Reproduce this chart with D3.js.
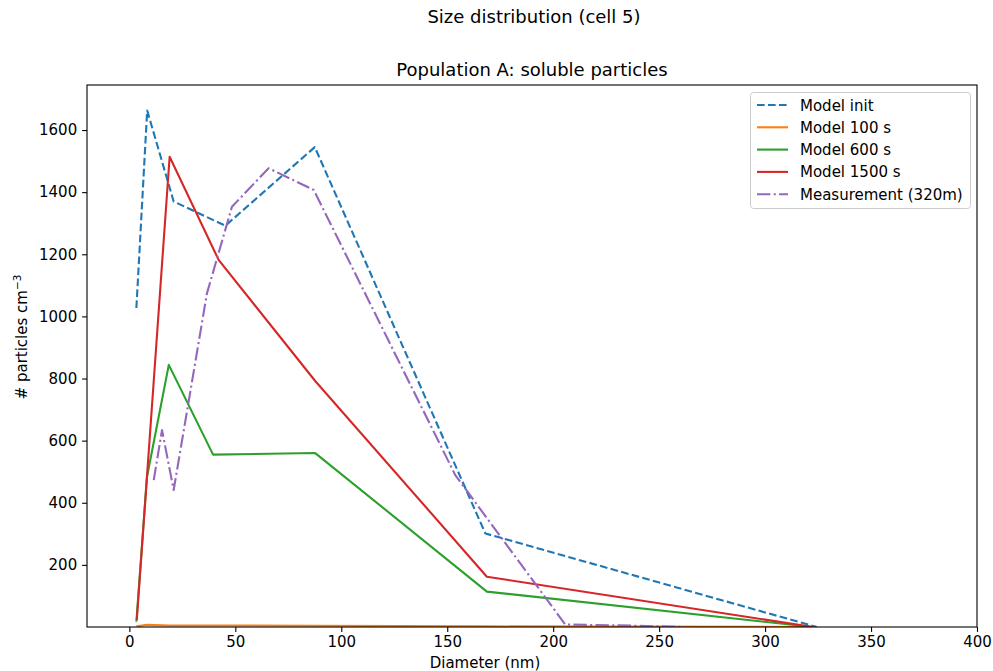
<!DOCTYPE html>
<html>
<head>
<meta charset="utf-8">
<script src="https://cdn.jsdelivr.net/npm/d3@7"></script>
<style>
  html, body { margin: 0; padding: 0; background: #fff; }
  svg text { font-family: "DejaVu Sans", sans-serif; fill: #000; }
</style>
</head>
<body>
<svg id="chart" width="993" height="671"></svg>
<script>
// Particle number size distribution, population A, cell 5
const initDiam = [3.3, 8.4, 20.9, 45.3, 87.5, 168, 324.4];
const initNum  = [1027, 1663, 1370, 1292, 1545, 301, 0];

const t100Diam = [3.3, 8.4, 19, 40, 88, 168, 323];
const t100Num  = [2, 7, 5, 5, 4, 2, 0];

const t600Diam = [3.3, 8.3, 18.6, 39.5, 87.7, 168.7, 322.5];
const t600Num  = [17, 483, 844, 555, 560, 114, 0];

const t1500Diam = [3.5, 19, 42.1, 87.7, 168.7, 322.6];
const t1500Num  = [23, 1514, 1182, 792, 162, 0];

const measDiam = [11.5, 15.4, 20.9, 36.6, 48.4, 65.7, 87, 153.8, 205.7, 240, 261];
const measNum  = [473, 634, 441, 1074, 1353, 1477, 1407, 489, 8, 4, 0];

const seriesNames = ["Model init", "Model 100 s", "Model 600 s", "Model 1500 s", "Measurement (320m)"];
const xTicks = [0, 50, 100, 150, 200, 250, 300, 350, 400];
const yTicks = [200, 400, 600, 800, 1000, 1200, 1400, 1600];

const series = [
  { name: seriesNames[0], d: initDiam,  n: initNum,  color: "#1f77b4", dash: "5.5,2.4" },
  { name: seriesNames[1], d: t100Diam,  n: t100Num,  color: "#ff7f0e", dash: null },
  { name: seriesNames[2], d: t600Diam,  n: t600Num,  color: "#2ca02c", dash: null },
  { name: seriesNames[3], d: t1500Diam, n: t1500Num, color: "#d62728", dash: null },
  { name: seriesNames[4], d: measDiam,  n: measNum,  color: "#9467bd", dash: "9.6,2.4,1.5,2.4" }
];

const svg = d3.select("#chart");
const plot = { left: 87, top: 85, width: 890, height: 542 };

const x = d3.scaleLinear().domain([-20, 400]).range([plot.left, plot.left + plot.width]);
const y = d3.scaleLinear().domain([0, 1745]).range([plot.top + plot.height, plot.top]);

svg.append("defs").append("clipPath").attr("id", "plot-clip")
  .append("rect")
  .attr("x", plot.left).attr("y", plot.top)
  .attr("width", plot.width).attr("height", plot.height);

// data lines
const line = d3.line().x(p => x(p[0])).y(p => y(p[1]));
const lines = svg.append("g").attr("clip-path", "url(#plot-clip)");
series.forEach(s => {
  const pts = s.d.map((d, i) => [d, s.n[i]]);
  lines.append("path")
    .attr("d", line(pts))
    .attr("fill", "none")
    .attr("stroke", s.color)
    .attr("stroke-width", 2.1)
    .attr("stroke-linejoin", "round")
    .attr("stroke-dasharray", s.dash ? s.dash.split(",").map(v => +v * 1.39).join(",") : null);
});

// axes
const xAxis = d3.axisBottom(x).tickValues(xTicks).tickSize(4.9).tickPadding(4.9).tickFormat(d3.format("d"));
const yAxis = d3.axisLeft(y).tickValues(yTicks).tickSize(4.9).tickPadding(4.9).tickFormat(d3.format("d"));

const gx = svg.append("g").attr("transform", `translate(0,${plot.top + plot.height})`).call(xAxis);
const gy = svg.append("g").attr("transform", `translate(${plot.left},0)`).call(yAxis);
[gx, gy].forEach(g => {
  g.select(".domain").remove();
  g.selectAll(".tick line").attr("stroke", "#000").attr("stroke-width", 1.1);
  g.selectAll(".tick text").attr("font-size", "15px").attr("fill", "#000");
});

// frame
svg.append("rect")
  .attr("x", plot.left).attr("y", plot.top)
  .attr("width", plot.width).attr("height", plot.height)
  .attr("fill", "none").attr("stroke", "#000").attr("stroke-width", 1.1);

// titles and labels
svg.append("text")
  .attr("x", 534).attr("y", 23)
  .attr("text-anchor", "middle").attr("font-size", "18px")
  .text("Size distribution (cell 5)");

svg.append("text")
  .attr("x", 532).attr("y", 76)
  .attr("text-anchor", "middle").attr("font-size", "18px")
  .text("Population A: soluble particles");

svg.append("text")
  .attr("x", 485).attr("y", 668)
  .attr("text-anchor", "middle").attr("font-size", "15px")
  .text("Diameter (nm)");

const yl = svg.append("text")
  .attr("transform", "translate(27,337) rotate(-90)")
  .attr("text-anchor", "middle").attr("font-size", "15px");
yl.append("tspan").text("# particles cm");
yl.append("tspan").attr("dy", -6).attr("font-size", "10.5px").text("\u22123");

// legend
const lg = svg.append("g");
lg.append("rect")
  .attr("x", 750.5).attr("y", 92.5)
  .attr("width", 220).attr("height", 116)
  .attr("rx", 3)
  .attr("fill", "#fff").attr("fill-opacity", 0.8)
  .attr("stroke", "#cccccc").attr("stroke-width", 1);
series.forEach((s, i) => {
  const yy = 105 + i * 22.3;
  lg.append("line")
    .attr("x1", 757).attr("x2", 788)
    .attr("y1", yy).attr("y2", yy)
    .attr("stroke", s.color).attr("stroke-width", 2.1)
    .attr("stroke-dasharray", s.dash ? s.dash.split(",").map(v => +v * 1.39).join(",") : null);
  lg.append("text")
    .attr("x", 800).attr("y", yy + 5.5)
    .attr("font-size", "15px")
    .text(s.name);
});
</script>
</body>
</html>
